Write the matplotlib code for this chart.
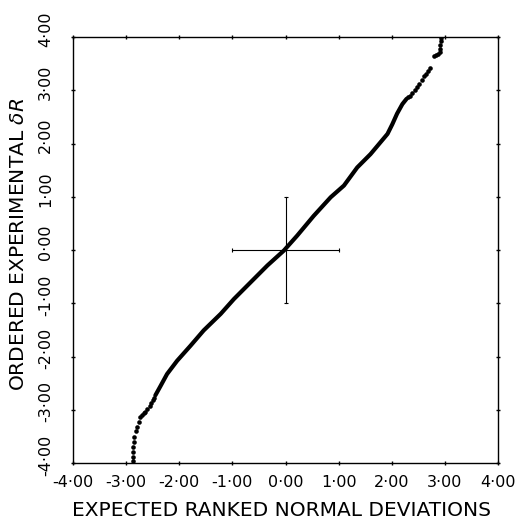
"""
Normal probability plot: ordered experimental dR against expected ranked normal deviations
"""
import numpy as np
import matplotlib
matplotlib.use('Agg')
import matplotlib.pyplot as plt
from matplotlib.transforms import ScaledTranslation

# Dense part of the plot (reads as a continuous thick trace)
dense_x = [-2.45, -2.35, -2.23, -2.04, -1.79, -1.54, -1.22, -0.97, -0.66, -0.34,
           -0.03, 0.22, 0.53, 0.85, 1.10, 1.35, 1.60, 1.76, 1.92, 2.01, 2.10, 2.20, 2.28]
dense_y = [-2.73, -2.55, -2.33, -2.08, -1.80, -1.51, -1.20, -0.92, -0.61, -0.29,
           -0.01, 0.27, 0.64, 0.99, 1.21, 1.55, 1.80, 1.99, 2.18, 2.36, 2.56, 2.74, 2.84]

# Sparse tails, individual dots
low_x = [-2.88, -2.88, -2.88, -2.87, -2.86, -2.85, -2.81, -2.79, -2.76, -2.73,
         -2.70, -2.67, -2.64, -2.60, -2.56, -2.53, -2.50, -2.47]
low_y = [-3.97, -3.88, -3.79, -3.70, -3.60, -3.51, -3.40, -3.32, -3.23, -3.14,
         -3.10, -3.07, -3.04, -2.98, -2.93, -2.88, -2.82, -2.77]
high_x = [2.31, 2.35, 2.39, 2.43, 2.48, 2.52, 2.56, 2.60, 2.64, 2.68, 2.72,
          2.80, 2.83, 2.87, 2.90, 2.91, 2.91, 2.92, 2.92]
high_y = [2.87, 2.90, 2.95, 3.01, 3.07, 3.12, 3.19, 3.26, 3.31, 3.37, 3.42,
          3.64, 3.67, 3.69, 3.72, 3.78, 3.85, 3.92, 3.99]

ticks = [-4, -3, -2, -1, 0, 1, 2, 3, 4]
tick_labels = ['-4\u00b700', '-3\u00b700', '-2\u00b700', '-1\u00b700', '0\u00b700',
               '1\u00b700', '2\u00b700', '3\u00b700', '4\u00b700']

fig = plt.figure(figsize=(5.21, 5.19), dpi=100)
ax = fig.add_axes([73/521, 56/519, 425/521, 426/519])

ax.plot(dense_x, dense_y, '-', color='black', lw=3.0, solid_capstyle='round',
        solid_joinstyle='round')
ax.plot(low_x, low_y, 'o', color='black', ms=3.3, mew=0)
ax.plot(high_x, high_y, 'o', color='black', ms=3.3, mew=0)

# crosshair at the origin
ax.plot([-1, 1], [0, 0], '-', color='black', lw=0.8)
ax.plot([0, 0], [-1, 1], '-', color='black', lw=0.8)
ax.plot([-1, 1], [0, 0], '|', color='black', ms=3, mew=0.8)
ax.plot([0, 0], [-1, 1], '_', color='black', ms=3, mew=0.8)

ax.set_xlim(-4, 4)
ax.set_ylim(-4, 4)
ax.set_xticks(ticks)
ax.set_yticks(ticks)
ax.set_xticklabels(tick_labels)
ax.set_yticklabels(tick_labels, rotation=90, va='center')
for spine in ax.spines.values():
    spine.set_linewidth(1.0)
ax.tick_params(axis='both', which='both', direction='inout', length=3, width=1.0,
               top=True, right=True, labelsize=11.5)
ax.tick_params(axis='x', pad=7)
ax.tick_params(axis='y', pad=13)

offset = ScaledTranslation(0, 8/100, fig.dpi_scale_trans)
for label in ax.get_yticklabels():
    label.set_transform(label.get_transform() + offset)

ax.set_xlabel('EXPECTED RANKED NORMAL DEVIATIONS', fontsize=14.5)
ax.set_ylabel('ORDERED EXPERIMENTAL $\\delta R$', fontsize=14.5)
ax.xaxis.set_label_coords(0.49, -0.089)
ax.yaxis.set_label_coords(-0.106, 0.514)

fig.savefig('out.png', dpi=100)
